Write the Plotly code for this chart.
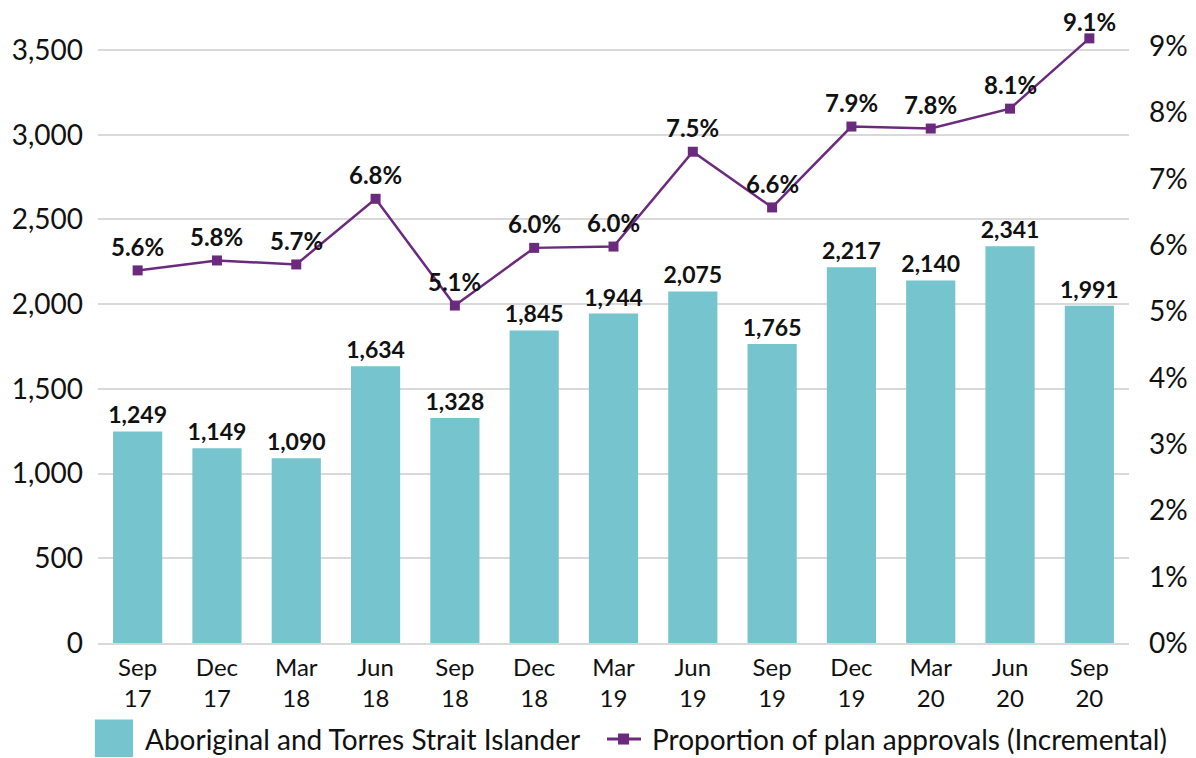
import plotly.graph_objects as go

categories = ["Sep<br>17", "Dec<br>17", "Mar<br>18", "Jun<br>18", "Sep<br>18", "Dec<br>18",
              "Mar<br>19", "Jun<br>19", "Sep<br>19", "Dec<br>19", "Mar<br>20", "Jun<br>20", "Sep<br>20"]
participants = [1249, 1149, 1090, 1634, 1328, 1845, 1944, 2075, 1765, 2217, 2140, 2341, 1991]
proportion = [5.62, 5.77, 5.71, 6.70, 5.09, 5.96, 5.98, 7.41, 6.57, 7.79, 7.76, 8.06, 9.12]
proportion_labels = ["5.6%", "5.8%", "5.7%", "6.8%", "5.1%", "6.0%", "6.0%", "7.5%", "6.6%",
                     "7.9%", "7.8%", "8.1%", "9.1%"]
left_ticks = [0, 500, 1000, 1500, 2000, 2500, 3000, 3500]
right_ticks = [0, 1, 2, 3, 4, 5, 6, 7, 8, 9]
right_tick_labels = ["0%", "1%", "2%", "3%", "4%", "5%", "6%", "7%", "8%", "9%"]

TEAL = "#76C4CD"
PURPLE = "#6C2A7E"
FONT = "Lato"

fig = go.Figure()
fig.add_trace(go.Bar(
    x=categories, y=participants, name="Aboriginal and Torres Strait Islander",
    marker=dict(color=TEAL, line=dict(width=0)),
    text=[f"{v:,}" for v in participants], textposition="outside", constraintext="none",
    textfont=dict(family=FONT, size=23, color="#111111", weight="bold"),
    cliponaxis=False, showlegend=False,
))
fig.add_trace(go.Scatter(
    x=categories, y=proportion, yaxis="y2", name="Proportion of plan approvals (Incremental)",
    mode="lines+markers",
    line=dict(color=PURPLE, width=2.5),
    marker=dict(symbol="square", size=10, color=PURPLE),
    cliponaxis=False, showlegend=False,
))

# data labels for the line (last one sits closer to its point, as in the original)
n = len(categories)
for i, (cat, val, lab) in enumerate(zip(categories, proportion, proportion_labels)):
    fig.add_annotation(x=cat, y=val, xref="x", yref="y2", text=lab, showarrow=False,
                       yshift=(17 if i == n - 1 else 24), yanchor="middle",
                       font=dict(family=FONT, size=24, color="#111111", weight="bold"))

# manual legend (paper coordinates)
fig.add_shape(type="rect", xref="paper", yref="paper",
              x0=-0.003, x1=0.034, y0=-0.180, y1=-0.121,
              fillcolor=TEAL, line=dict(width=0))
fig.add_annotation(xref="paper", yref="paper", x=0.0436, y=-0.1517, xanchor="left", yanchor="middle",
                   text="Aboriginal and Torres Strait Islander", showarrow=False,
                   font=dict(family=FONT, size=28, color="#111111"))
fig.add_shape(type="line", xref="paper", yref="paper",
              x0=0.4937, x1=0.5267, y0=-0.1517, y1=-0.1517,
              line=dict(color=PURPLE, width=3))
fig.add_shape(type="rect", xref="paper", yref="paper",
              x0=0.5044, x1=0.5151, y0=-0.1604, y1=-0.1430,
              fillcolor=PURPLE, line=dict(width=0))
fig.add_annotation(xref="paper", yref="paper", x=0.5354, y=-0.1517, xanchor="left", yanchor="middle",
                   text="Proportion of plan approvals (Incremental)", showarrow=False,
                   font=dict(family=FONT, size=28, color="#111111"))

fig.update_layout(
    width=1196, height=758,
    margin=dict(l=90, r=75, t=2, b=123),
    paper_bgcolor="white", plot_bgcolor="white",
    bargap=0.38,
    font=dict(family=FONT, color="#111111"),
    xaxis=dict(range=[-0.5, 12.5], showgrid=False, showline=True, linecolor="#D9D9D9", linewidth=1.5,
               tickfont=dict(family=FONT, size=24, color="#111111"), ticks="", ticklabelstandoff=2,
               automargin=False),
    yaxis=dict(range=[0, 3736], tickvals=left_ticks, tickformat=",", showgrid=True,
               gridcolor="#D9D9D9", gridwidth=1.5, zeroline=False, showline=False,
               tickfont=dict(family=FONT, size=28, color="#111111"), ticklabelstandoff=14,
               automargin=False),
    yaxis2=dict(range=[0, 9.548], tickvals=right_ticks, ticktext=right_tick_labels,
                overlaying="y", side="right",
                showgrid=False, zeroline=False, showline=False,
                tickfont=dict(family=FONT, size=28, color="#111111"), ticklabelstandoff=19,
                automargin=False),
)

fig.write_html("out.html")
